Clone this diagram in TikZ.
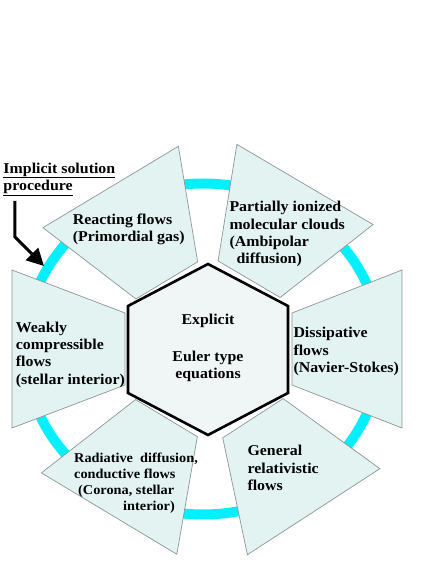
\documentclass[tikz,border=0pt]{standalone}
\usepackage{xcolor}
\usepackage{fontspec}
\setmainfont{Liberation Serif}[FakeStretch=1.06]
\usepackage{tikz}
\usetikzlibrary{arrows.meta, calc}

\definecolor{ringcyan}{RGB}{0,240,255}
\definecolor{panelfill}{RGB}{226,243,242}
\definecolor{panelline}{RGB}{140,150,150}
\definecolor{hubfill}{RGB}{240,245,245}

\begin{document}
\begin{tikzpicture}[
    x=1pt, y=1pt,
    panel/.style={
        fill=panelfill,
        draw=panelline,
        line width=0.7pt
    },
    hexbox/.style={
        fill=hubfill,
        draw=black,
        line width=2.6pt
    },
    ring/.style={
        draw=ringcyan,
        line width=10pt
    },
    flowtext/.style={
        inner sep=0pt,
        align=left,
        anchor=base west,
        font=\bfseries\fontsize{15}{17.4}\selectfont
    },
    arrow/.style={
        -{Triangle[length=17pt, width=17pt]},
        line width=3pt
    }
]
\useasboundingbox (-208,-215) rectangle (228,349);

% === Ring ===
\draw[ring] (-5,0) ellipse[x radius=178, y radius=165.5];

% === Panels ===
\foreach \a/\r/\R in {0/84/194, 59.5/81/191, 121/80/189, 180/83/196, 239/80.6/192, 303/82.5/194}
    \draw[panel, rotate=\a] (\r,-36) -- (\R,-79) -- (\R,79) -- (\r,36) -- cycle;

% === Hexagon ===
\draw[hexbox] (0,85) -- (80,43) -- (80,-44) -- (0,-86) -- (-80,-44) -- (-80,43) -- cycle;
\node[flowtext, align=center, anchor=center] (hub) at (0,1) {Explicit\\[19pt]Euler type\\equations};

% === Flow types (anchored at the last baseline) ===
\node[flowtext] (react) at (-135.3,107.3) {Reacting flows\\(Primordial gas)};
\node[flowtext] (ionized) at (21.3,85) {Partially ionized\\molecular clouds\\(Ambipolar\\\hspace*{7pt}diffusion)};
\node[flowtext] (weakly) at (-192.3,-35.3) {Weakly\\compressible\\flows\\(stellar interior)};
\node[flowtext] (dissip) at (85.3,-23.7) {Dissipative\\flows\\(Navier-Stokes)};
\node[flowtext, font=\bfseries\fontsize{13.5}{15.8}\selectfont] (radiat) at (-134,-161)
    {Radiative~ diffusion,\\conductive flows\\\hspace*{4pt}(Corona, stellar\\\hspace*{49pt}interior)};
\node[flowtext] (general) at (39.3,-141.7) {General\\relativistic\\flows};

% === Implicit label ===
\node[flowtext] (implicit) at (-204.7,158.5) {\underline{Implicit solution}\\\underline{procedure}};
\coordinate (bend) at (-193,112);
\coordinate (aim) at (-164,83);
\draw[arrow, shorten <=5pt] (implicit.south -| bend) -- (bend) -- (aim);
\end{tikzpicture}
\end{document}
